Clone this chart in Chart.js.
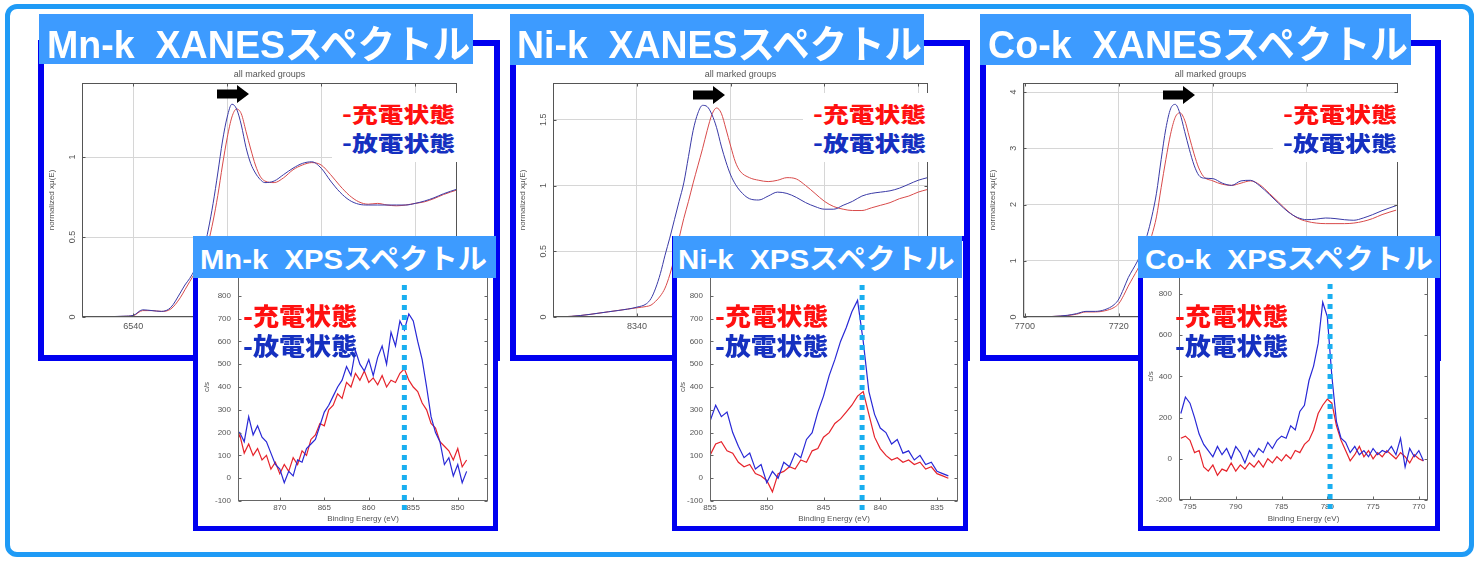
<!DOCTYPE html>
<html lang="ja"><head><meta charset="utf-8"><title>XANES / XPS スペクトル</title>
<script src="https://cdn.jsdelivr.net/npm/chart.js@4.4.1/dist/chart.umd.min.js"></script>
<style>
body{margin:0;width:1478px;height:562px;position:relative;overflow:hidden;background:#fff;font-family:"Liberation Sans","Noto Sans CJK JP",sans-serif}
.abs{position:absolute}
.outer{left:5px;top:4px;width:1469px;height:553px;border:5px solid #1f9bf6;border-radius:12px;box-sizing:border-box}
.xf{border:6px solid #0000f0;box-sizing:border-box;background:#fff}
.if{border:5px solid #0000f0;box-sizing:border-box;background:#fff}
.tb{background:#3d9bff}
.tt{color:#fff;font-weight:700;white-space:nowrap;line-height:1;display:inline-block;transform-origin:0 0}
.lg{font-family:"Noto Sans CJK JP",sans-serif;font-weight:900;white-space:nowrap;line-height:1;display:inline-block;transform-origin:0 0}
.r{color:#ff1010}.b{color:#1530c0}
canvas{position:absolute}
.wb{background:#fff}
</style></head>
<body>
<div class="abs outer"></div>

<!-- Mn XANES -->
<div class="abs xf" style="left:38px;top:40px;width:462px;height:321px"></div>
<canvas id="mnXanes" width="450" height="290" style="left:44px;top:65px"></canvas>
<div class="abs wb" style="left:332px;top:93px;width:127px;height:69px"></div>
<div class="abs lg r fit" data-w="113" style="left:342px;top:103px;font-size:21px">-充電状態</div>
<div class="abs lg b fit" data-w="113" style="left:342px;top:132px;font-size:21px">-放電状態</div>
<svg class="abs" style="left:217px;top:85px" width="33" height="19"><polygon points="0,4.5 20,4.5 20,0 32,9 20,18 20,13.5 0,13.5" fill="#000"/></svg>
<div class="abs tb" style="left:39px;top:14px;width:434px;height:50px"></div>
<div class="abs tt fit" data-w="423" style="left:47px;top:25px;font-size:39px">Mn-k&nbsp;&nbsp;XANESスペクトル</div>

<!-- Ni XANES -->
<div class="abs xf" style="left:510px;top:40px;width:460px;height:321px"></div>
<canvas id="niXanes" width="449" height="290" style="left:516px;top:65px"></canvas>
<div class="abs wb" style="left:803px;top:93px;width:125px;height:69px"></div>
<div class="abs lg r fit" data-w="113" style="left:813px;top:103px;font-size:21px">-充電状態</div>
<div class="abs lg b fit" data-w="113" style="left:813px;top:132px;font-size:21px">-放電状態</div>
<svg class="abs" style="left:693px;top:86px" width="33" height="19"><polygon points="0,4.5 20,4.5 20,0 32,9 20,18 20,13.5 0,13.5" fill="#000"/></svg>
<div class="abs tb" style="left:510px;top:14px;width:414px;height:51px"></div>
<div class="abs tt fit" data-w="405" style="left:517px;top:25px;font-size:39px">Ni-k&nbsp;&nbsp;XANESスペクトル</div>

<!-- Co XANES -->
<div class="abs xf" style="left:980px;top:40px;width:461px;height:321px"></div>
<canvas id="coXanes" width="449" height="290" style="left:986px;top:65px"></canvas>
<div class="abs wb" style="left:1273px;top:93px;width:125px;height:69px"></div>
<div class="abs lg r fit" data-w="114" style="left:1283px;top:103px;font-size:21px">-充電状態</div>
<div class="abs lg b fit" data-w="114" style="left:1283px;top:132px;font-size:21px">-放電状態</div>
<svg class="abs" style="left:1163px;top:86px" width="33" height="19"><polygon points="0,4.5 20,4.5 20,0 32,9 20,18 20,13.5 0,13.5" fill="#000"/></svg>
<div class="abs tb" style="left:980px;top:14px;width:431px;height:51px"></div>
<div class="abs tt fit" data-w="420" style="left:988px;top:25px;font-size:39px">Co-k&nbsp;&nbsp;XANESスペクトル</div>

<!-- Mn XPS -->
<div class="abs if" style="left:193px;top:236px;width:305px;height:295px"></div>
<canvas id="mnXps" width="294" height="285" style="left:198px;top:241px"></canvas>
<div class="abs lg r fit" data-w="114" style="left:243px;top:303px;font-size:24px">-充電状態</div>
<div class="abs lg b fit" data-w="114" style="left:243px;top:333px;font-size:24px">-放電状態</div>
<div class="abs tb" style="left:193px;top:236px;width:303px;height:42px"></div>
<div class="abs tt fit" data-w="287" style="left:200px;top:246px;font-size:28px">Mn-k&nbsp;&nbsp;XPSスペクトル</div>

<!-- Ni XPS -->
<div class="abs if" style="left:672px;top:236px;width:296px;height:295px"></div>
<canvas id="niXps" width="286" height="285" style="left:677px;top:241px"></canvas>
<div class="abs lg r fit" data-w="113" style="left:715px;top:303px;font-size:24px">-充電状態</div>
<div class="abs lg b fit" data-w="113" style="left:715px;top:333px;font-size:24px">-放電状態</div>
<div class="abs tb" style="left:673px;top:236px;width:289px;height:42px"></div>
<div class="abs tt fit" data-w="277" style="left:678px;top:246px;font-size:28px">Ni-k&nbsp;&nbsp;XPSスペクトル</div>

<!-- Co XPS -->
<div class="abs if" style="left:1138px;top:236px;width:302px;height:295px"></div>
<canvas id="coXps" width="290" height="285" style="left:1143px;top:241px"></canvas>
<div class="abs lg r fit" data-w="113" style="left:1175px;top:303px;font-size:24px">-充電状態</div>
<div class="abs lg b fit" data-w="113" style="left:1175px;top:333px;font-size:24px">-放電状態</div>
<div class="abs tb" style="left:1138px;top:236px;width:302px;height:42px"></div>
<div class="abs tt fit" data-w="288" style="left:1145px;top:246px;font-size:28px">Co-k&nbsp;&nbsp;XPSスペクトル</div>

<script>
// ---------------- DATA ----------------
// Mn K-edge XANES (eV, normalized xμ(E))
const mnXanesEnergy = [6529,6532,6535,6538,6540,6542,6544,6546,6548,6550,6551,6552,6553,6554,6555,6556,6557,6558,6559,6560,6561,6562,6563,6564,6565,6566,6567,6568,6570,6572,6574,6576,6578,6580,6582,6584,6586,6588,6590,6592,6594,6596,6598,6600,6602,6604,6606,6609];
const mnXanesCharged = [0,0,0.002,0.004,0.008,0.04,0.04,0.035,0.05,0.12,0.17,0.22,0.27,0.32,0.38,0.47,0.6,0.76,0.95,1.12,1.25,1.30,1.27,1.16,1.05,0.95,0.88,0.85,0.84,0.87,0.92,0.95,0.965,0.95,0.89,0.82,0.76,0.72,0.705,0.71,0.70,0.695,0.70,0.71,0.72,0.74,0.765,0.795];
const mnXanesDischarged = [0,0,0.002,0.005,0.01,0.045,0.04,0.035,0.06,0.15,0.2,0.24,0.29,0.35,0.42,0.55,0.71,0.9,1.1,1.25,1.33,1.3,1.2,1.06,0.96,0.9,0.86,0.84,0.85,0.89,0.93,0.96,0.97,0.93,0.85,0.78,0.73,0.705,0.70,0.70,0.70,0.70,0.70,0.71,0.725,0.745,0.77,0.80];
const mnXanesXTicks = [6540,6560,6580,6600];
const mnXanesYTicks = [0,0.5,1];

// Ni K-edge XANES
const niXanesEnergy = [8322,8326,8330,8334,8338,8340,8342,8343,8344,8345,8346,8347,8348,8349,8350,8351,8352,8353,8354,8355,8356,8357,8358,8359,8360,8361,8362,8364,8366,8368,8370,8372,8374,8376,8378,8380,8382,8384,8386,8388,8390,8392,8394,8396,8398,8400,8402];
const niXanesCharged = [0,0.005,0.02,0.04,0.06,0.07,0.08,0.09,0.12,0.16,0.22,0.32,0.45,0.6,0.75,0.88,1.02,1.15,1.28,1.42,1.54,1.59,1.55,1.43,1.3,1.18,1.11,1.06,1.04,1.03,1.04,1.06,1.05,1.0,0.94,0.88,0.84,0.82,0.81,0.81,0.83,0.85,0.87,0.9,0.92,0.95,0.97];
const niXanesDischarged = [0,0.005,0.02,0.04,0.06,0.075,0.1,0.14,0.22,0.33,0.47,0.6,0.74,0.88,1.02,1.22,1.42,1.55,1.61,1.6,1.54,1.44,1.3,1.18,1.08,1.01,0.96,0.9,0.89,0.92,0.95,0.94,0.91,0.87,0.84,0.82,0.82,0.85,0.88,0.92,0.94,0.95,0.96,0.98,1.01,1.04,1.06];
const niXanesXTicks = [8340,8360,8380,8400];
const niXanesYTicks = [0,0.5,1,1.5];

// Co K-edge XANES
const coXanesEnergy = [7700,7703,7706,7709,7711,7713,7715,7717,7719,7720,7721,7722,7723,7724,7725,7726,7727,7728,7729,7730,7731,7732,7733,7734,7735,7736,7737,7738,7740,7742,7744,7746,7748,7750,7752,7754,7756,7758,7760,7762,7764,7766,7768,7770,7772,7774,7776,7779];
const coXanesCharged = [0,0,0.01,0.025,0.05,0.09,0.09,0.11,0.17,0.24,0.38,0.55,0.7,0.85,1.02,1.2,1.45,1.78,2.3,2.8,3.25,3.55,3.63,3.5,3.2,2.9,2.65,2.5,2.42,2.36,2.34,2.38,2.42,2.35,2.2,2.04,1.88,1.76,1.7,1.67,1.66,1.66,1.66,1.67,1.7,1.75,1.82,1.9];
const coXanesDischarged = [0,0,0.01,0.03,0.06,0.1,0.1,0.13,0.22,0.32,0.5,0.7,0.85,1.0,1.2,1.45,1.78,2.2,2.8,3.35,3.7,3.78,3.62,3.3,2.98,2.7,2.52,2.47,2.46,2.38,2.34,2.42,2.43,2.33,2.18,2.02,1.87,1.77,1.73,1.74,1.76,1.75,1.73,1.72,1.76,1.82,1.89,1.98];
const coXanesXTicks = [7700,7720,7740,7760];
const coXanesYTicks = [0,1,2,3,4];

// Mn 2p XPS (Binding Energy eV, c/s)
const mnXpsEnergy = [875,874.5,874,873.5,873,872.5,872,871.5,871,870.5,870,869.5,869,868.5,868,867.5,867,866.5,866,865.5,865,864.5,864,863.5,863,862.5,862,861.5,861,860.5,860,859.5,859,858.5,858,857.5,857,856.5,856,855.5,855,854.5,854,853.5,853,852.5,852,851.5,851,850.5,850,849.5,849];
const mnXpsCharged = [150,190,110,150,100,130,80,100,40,70,20,60,30,90,60,120,100,170,190,240,230,300,320,370,350,420,400,460,430,470,420,440,410,450,400,430,420,460,480,430,400,380,330,300,240,220,160,140,120,80,130,50,80];
const mnXpsDischarged = [180,200,160,270,190,230,180,160,110,60,40,-20,30,10,80,70,130,150,170,230,290,320,360,400,430,490,450,560,500,470,520,450,530,580,500,640,580,690,650,720,690,600,520,400,270,200,160,60,90,10,60,-20,30];
const mnXpsXTicks = [870,865,860,855,850];
const mnXpsYTicks = [-100,0,100,200,300,400,500,600,700,800];
const mnXpsMarker = 856.0;

// Ni 2p XPS
const niXpsEnergy = [855,854.5,854,853.5,853,852.5,852,851.5,851,850.5,850,849.5,849,848.5,848,847.5,847,846.5,846,845.5,845,844.5,844,843.5,843,842.5,842,841.5,841,840.5,840,839.5,839,838.5,838,837.5,837,836.5,836,835.5,835,834.5,834];
const niXpsCharged = [100,150,160,120,110,70,50,60,20,10,-10,-60,20,30,50,40,80,70,120,130,180,200,240,260,290,320,360,380,280,180,130,100,80,90,70,80,60,70,40,50,20,10,0];
const niXpsDischarged = [250,320,270,290,200,140,90,110,40,60,-20,30,0,70,50,110,90,170,200,290,360,450,520,600,660,730,780,600,380,280,220,200,150,170,110,120,80,100,60,70,30,20,10];
const niXpsXTicks = [855,850,845,840,835];
const niXpsYTicks = [-100,0,100,200,300,400,500,600,700,800];
const niXpsMarker = 841.6;

// Co 2p XPS
const coXpsEnergy = [796,795.5,795,794.5,794,793.5,793,792.5,792,791.5,791,790.5,790,789.5,789,788.5,788,787.5,787,786.5,786,785.5,785,784.5,784,783.5,783,782.5,782,781.5,781,780.5,780,779.5,779,778.5,778,777.5,777,776.5,776,775.5,775,774.5,774,773.5,773,772.5,772,771.5,771,770.5,770,769.5];
const coXpsCharged = [100,110,90,30,40,-40,-60,-30,-80,-50,-60,-20,-60,-30,-50,-20,-40,-10,-40,0,-20,10,-10,20,0,40,30,70,90,140,220,260,290,270,160,90,40,-10,20,60,10,40,0,30,10,40,20,0,30,10,-20,20,0,-10];
const coXpsDischarged = [220,300,270,200,120,70,40,10,60,20,50,0,60,30,-20,40,10,50,30,80,50,90,110,100,160,140,230,260,380,450,560,760,690,400,180,100,80,30,60,20,40,10,50,20,40,30,60,20,100,-40,50,10,40,-10];
const coXpsXTicks = [795,790,785,780,775,770];
const coXpsYTicks = [-200,0,200,400,600,800];
const coXpsMarker = 779.7;

// ---------------- DRAWING ----------------
Chart.defaults.font.family = '"Liberation Sans","DejaVu Sans",sans-serif';

const decor = {
  id: 'decor',
  afterDatasetsDraw(chart, _args, o) {
    const {ctx, chartArea: a} = chart;
    const sx = chart.scales.x, sy = chart.scales.y;
    ctx.save();
    ctx.setLineDash([]);
    ctx.strokeStyle = o.frame; ctx.lineWidth = 1;
    const L = Math.round(a.left) + 0.5, T = Math.round(a.top) + 0.5, R = Math.round(a.right) - 0.5, B = Math.round(a.bottom) - 0.5;
    ctx.strokeRect(L, T, R - L, B - T);
    ctx.beginPath();
    for (const t of sx.ticks) {
      const p = Math.round(sx.getPixelForValue(t.value)) + 0.5;
      ctx.moveTo(p, B); ctx.lineTo(p, B - o.tick);
      ctx.moveTo(p, T); ctx.lineTo(p, T + o.tick);
    }
    for (const t of sy.ticks) {
      const p = Math.round(sy.getPixelForValue(t.value)) + 0.5;
      ctx.moveTo(L, p); ctx.lineTo(L + o.tick, p);
      ctx.moveTo(R, p); ctx.lineTo(R - o.tick, p);
    }
    ctx.stroke();
    ctx.fillStyle = '#555';
    ctx.font = '9px "Liberation Sans","DejaVu Sans",sans-serif';
    if (o.subtitle) {
      ctx.textAlign = 'center'; ctx.textBaseline = 'middle';
      ctx.fillText(o.subtitle, (a.left + a.right) / 2, a.top - 8);
    }
    if (o.rotY) {
      for (const t of sy.ticks) {
        const p = sy.getPixelForValue(t.value);
        ctx.save(); ctx.translate(a.left - o.rotY, p); ctx.rotate(-Math.PI / 2);
        ctx.textAlign = 'center'; ctx.textBaseline = 'middle';
        ctx.fillText(String(t.value), 0, 0); ctx.restore();
      }
    }
    if (o.marker != null) {
      const px = sx.getPixelForValue(o.marker);
      ctx.strokeStyle = '#19aef0'; ctx.lineWidth = 5; ctx.setLineDash([5, 5]);
      ctx.beginPath();
      ctx.moveTo(px, a.bottom + 11 - o.markerLen); ctx.lineTo(px, a.bottom + 11);
      ctx.stroke();
    }
    ctx.restore();
  }
};

function makeSpectrum(id, s) {
  const isXps = s.kind === 'xps';
  const pts = vals => s.energy.map((e, i) => ({x: e, y: vals[i]}));
  const line = (vals, color, label) => ({
    label, data: pts(vals), borderColor: color, backgroundColor: color,
    borderWidth: isXps ? 1.2 : 1, pointRadius: 0, fill: false,
    tension: isXps ? 0 : 0.4, cubicInterpolationMode: isXps ? 'default' : 'monotone'
  });
  return new Chart(document.getElementById(id), {
    type: 'line',
    data: { datasets: [
      line(s.discharged, isXps ? '#2828d6' : '#3a3aa6', '放電状態'),
      line(s.charged, isXps ? '#e6232b' : '#d84a4a', '充電状態')
    ]},
    options: {
      responsive: false, devicePixelRatio: 1, animation: false,
      layout: { autoPadding: false, padding: { left: 0, top: s.padTop, right: s.padRight, bottom: 0 } },
      plugins: {
        legend: { display: false }, tooltip: { enabled: false }, title: { display: false },
        decor: { frame: isXps ? '#666' : '#555', tick: 3, subtitle: isXps ? null : 'all marked groups',
                 rotY: isXps ? 0 : 9, marker: isXps ? s.marker : null, markerLen: 227 }
      },
      scales: {
        x: {
          type: 'linear', min: s.xMin, max: s.xMax, reverse: isXps, bounds: 'data',
          afterBuildTicks: ax => { ax.ticks = s.xTicks.map(v => ({value: v})); },
          afterFit: ax => { ax.height = s.xH; },
          grid: { display: !isXps, color: '#d6d6d6', drawTicks: false },
          border: { display: false },
          ticks: { color: '#555', font: { size: isXps ? 8 : 9 }, padding: isXps ? 2 : 4, maxRotation: 0, minRotation: 0, autoSkip: false,
                   callback: v => String(v) },
          title: { display: isXps, text: 'Binding Energy (eV)', color: '#555', font: { size: 8 }, padding: { top: 0, bottom: 2 } }
        },
        y: {
          type: 'linear', min: s.yMin, max: s.yMax, bounds: 'data',
          afterBuildTicks: ax => { ax.ticks = s.yTicks.map(v => ({value: v})); },
          afterFit: ax => { ax.width = s.yW; },
          grid: { display: !isXps, color: '#d6d6d6', drawTicks: false },
          border: { display: false },
          ticks: { display: isXps, color: '#555', font: { size: 8 }, padding: 7, autoSkip: false, callback: v => String(v) },
          title: { display: true, text: s.yTitle, color: '#555', font: { size: 8 }, padding: { top: s.yTitlePad, bottom: 0 } }
        }
      }
    },
    plugins: [decor]
  });
}

const xanesTitle = 'normalized xμ(E)';
makeSpectrum('mnXanes', { kind: 'xanes', energy: mnXanesEnergy, charged: mnXanesCharged, discharged: mnXanesDischarged,
  xMin: 6529.1, xMax: 6608.9, yMin: 0, yMax: 1.4625, xTicks: mnXanesXTicks, yTicks: mnXanesYTicks,
  yW: 38, xH: 38, padTop: 18, padRight: 37, yTitle: xanesTitle, yTitlePad: 3 });
makeSpectrum('niXanes', { kind: 'xanes', energy: niXanesEnergy, charged: niXanesCharged, discharged: niXanesDischarged,
  xMin: 8322.1, xMax: 8402.1, yMin: 0, yMax: 1.78, xTicks: niXanesXTicks, yTicks: niXanesYTicks,
  yW: 37, xH: 38, padTop: 18, padRight: 37, yTitle: xanesTitle, yTitlePad: 2 });
makeSpectrum('coXanes', { kind: 'xanes', energy: coXanesEnergy, charged: coXanesCharged, discharged: coXanesDischarged,
  xMin: 7699.6, xMax: 7779.4, yMin: 0, yMax: 4.16, xTicks: coXanesXTicks, yTicks: coXanesYTicks,
  yW: 37, xH: 38, padTop: 18, padRight: 37, yTitle: xanesTitle, yTitlePad: 2 });

makeSpectrum('mnXps', { kind: 'xps', energy: mnXpsEnergy, charged: mnXpsCharged, discharged: mnXpsDischarged,
  xMin: 846.6, xMax: 874.7, yMin: -100, yMax: 900, xTicks: mnXpsXTicks, yTicks: mnXpsYTicks, marker: mnXpsMarker,
  yW: 40, xH: 25, padTop: 32, padRight: 4, yTitle: 'c/s', yTitlePad: 4 });
makeSpectrum('niXps', { kind: 'xps', energy: niXpsEnergy, charged: niXpsCharged, discharged: niXpsDischarged,
  xMin: 833.15, xMax: 855.0, yMin: -100, yMax: 900, xTicks: niXpsXTicks, yTicks: niXpsYTicks, marker: niXpsMarker,
  yW: 33, xH: 25, padTop: 32, padRight: 5, yTitle: 'c/s', yTitlePad: 1 });
makeSpectrum('coXps', { kind: 'xps', energy: coXpsEnergy, charged: coXpsCharged, discharged: coXpsDischarged,
  xMin: 769.0, xMax: 796.2, yMin: -200, yMax: 1000, xTicks: coXpsXTicks, yTicks: coXpsYTicks, marker: coXpsMarker,
  yW: 36, xH: 26, padTop: 9, padRight: 5, yTitle: 'c/s', yTitlePad: 3 });

// fit decorative text widths
function fitText() {
  document.querySelectorAll('.fit').forEach(el => {
    const w = el.offsetWidth;
    if (w > 0) el.style.transform = 'scaleX(' + (parseFloat(el.dataset.w) / w) + ')';
  });
}
fitText();
if (document.fonts && document.fonts.ready) document.fonts.ready.then(fitText);
</script>
</body></html>
